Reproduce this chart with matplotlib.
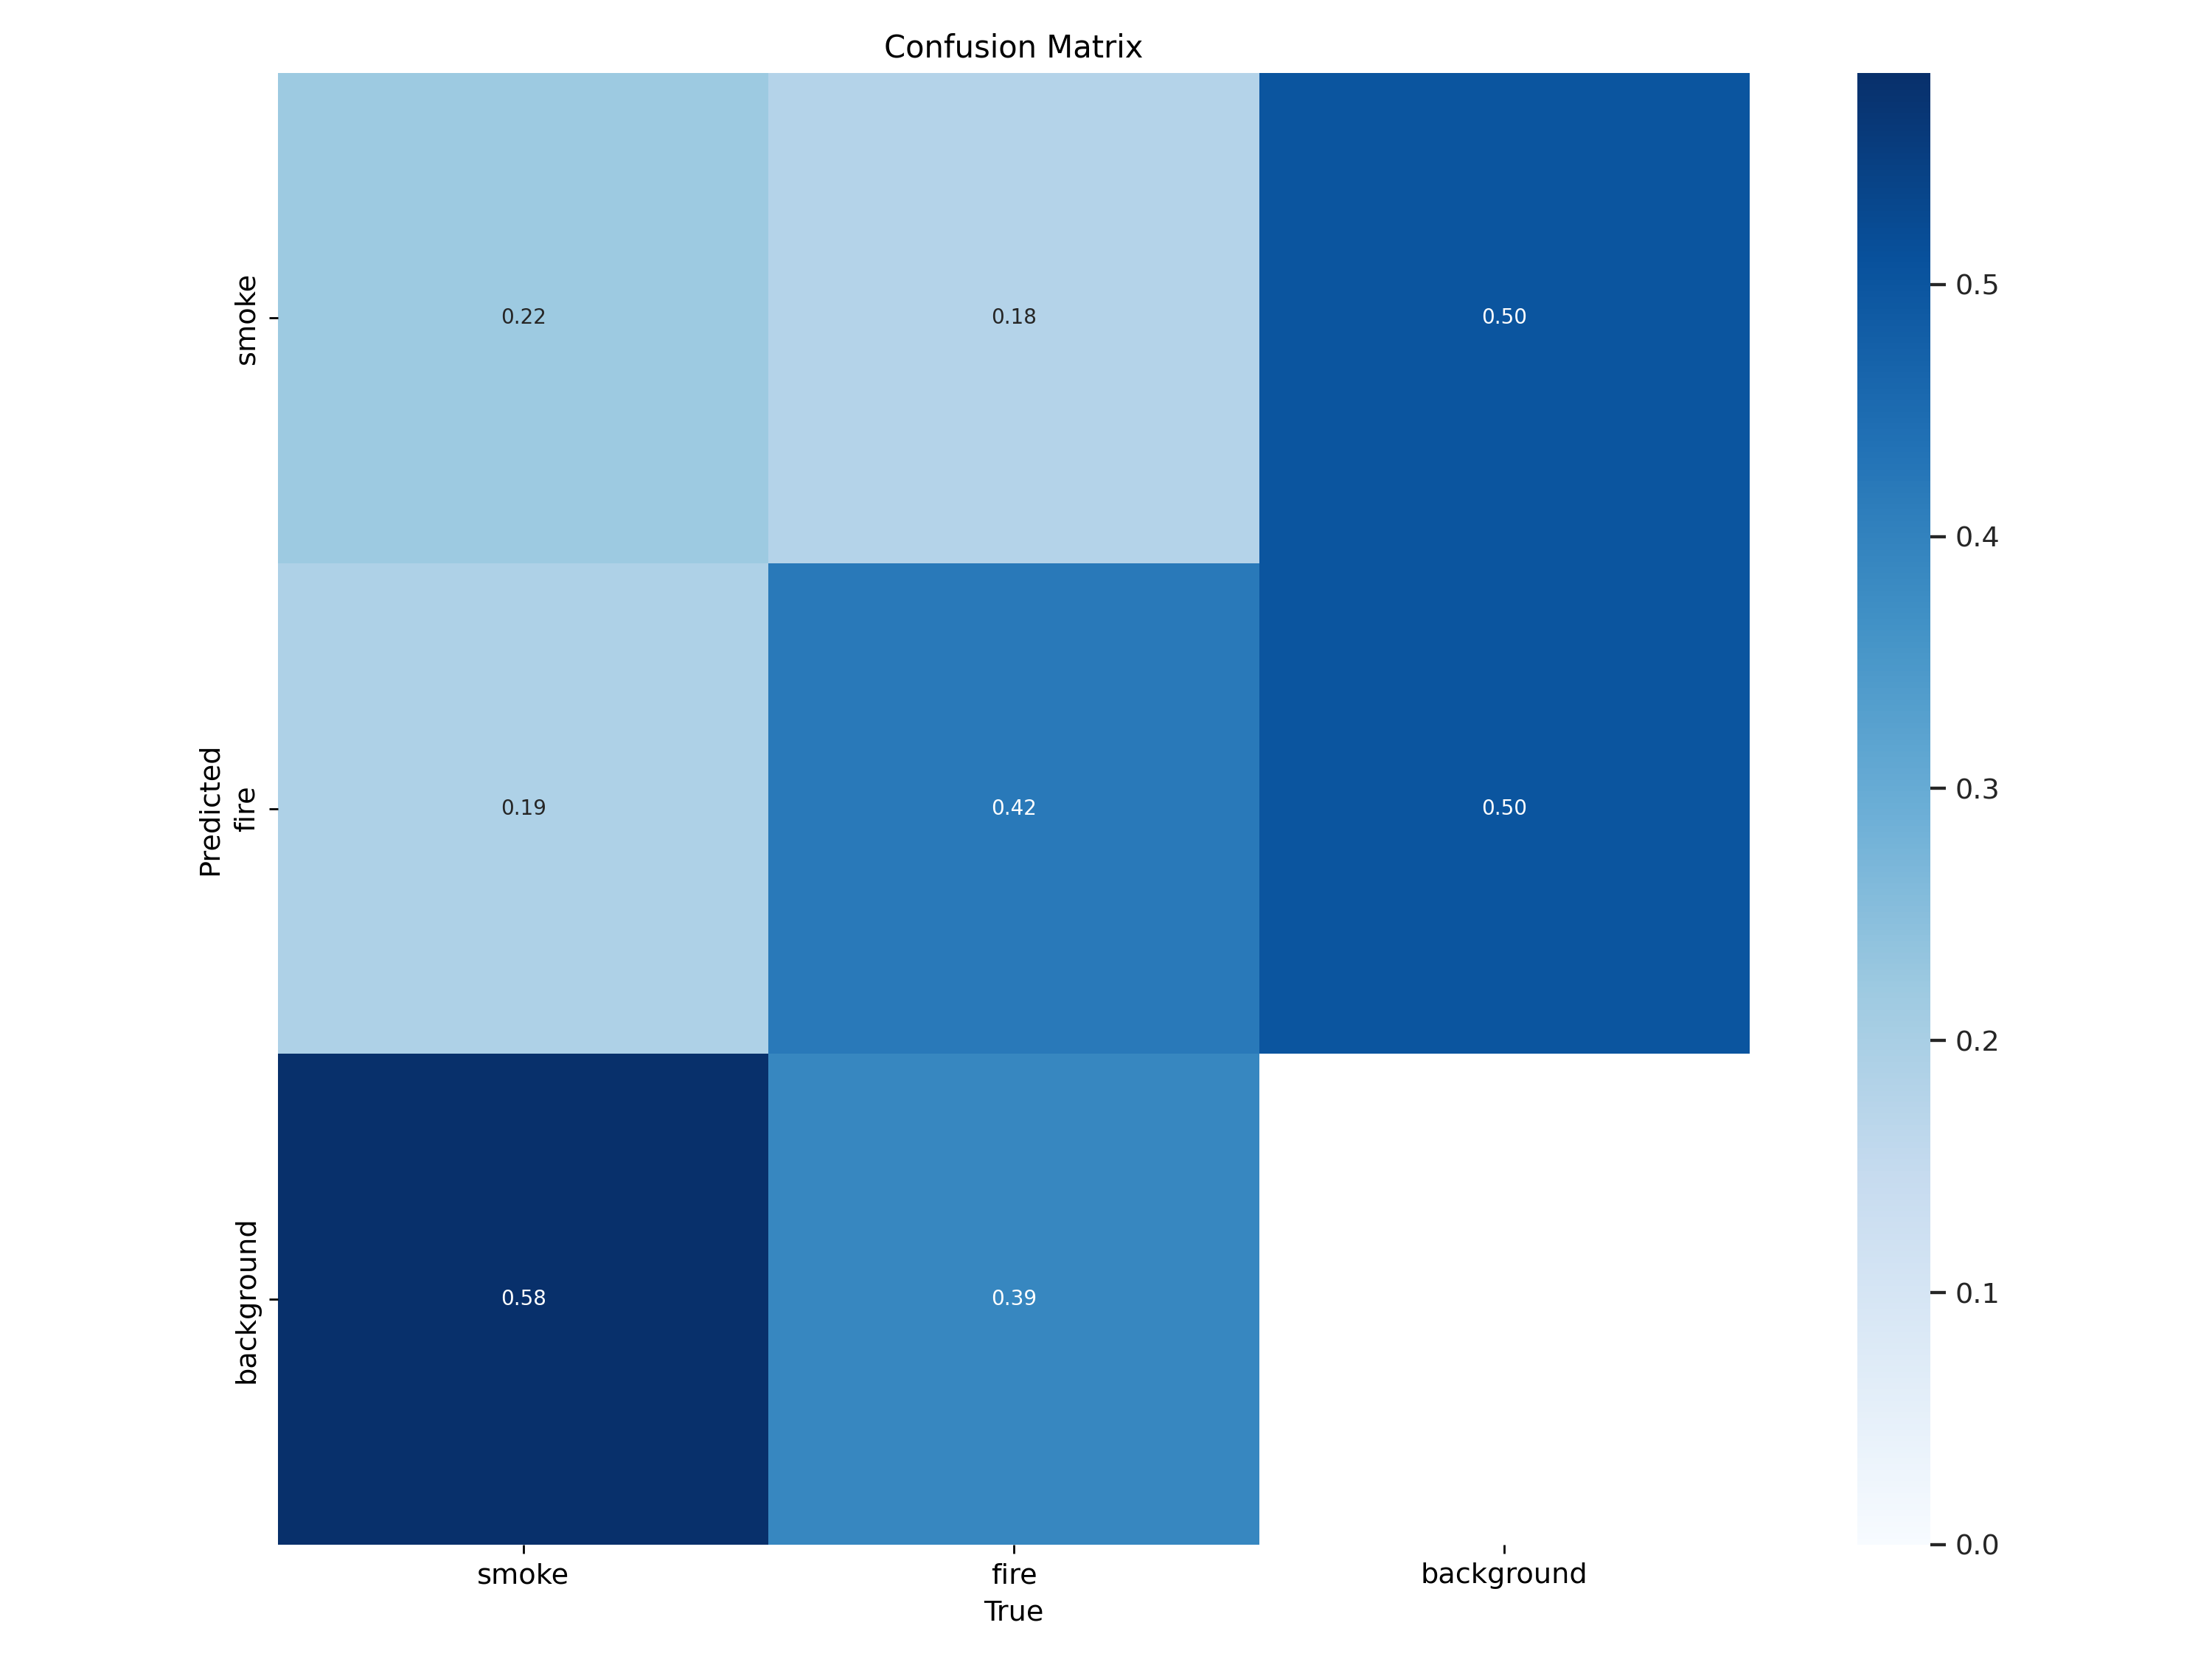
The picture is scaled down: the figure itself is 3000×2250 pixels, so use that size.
import numpy as np
import matplotlib
matplotlib.use("Agg")
import matplotlib.pyplot as plt
import seaborn as sns

labels_x = ["smoke", "fire", "background"]
labels_y = ["smoke", "fire", "background"]
row_smoke = [0.22, 0.18, 0.50]
row_fire = [0.19, 0.42, 0.50]
row_background = [0.584, 0.39, np.nan]

matrix = np.array([row_smoke, row_fire, row_background])

plt.rcParams["font.size"] = 12

fig, ax = plt.subplots(1, 1, figsize=(12, 9), tight_layout=True)
hm = sns.heatmap(matrix, ax=ax, annot=True, annot_kws={"size": 8}, cmap="Blues",
                 fmt=".2f", square=True, vmin=0.0,
                 xticklabels=labels_x, yticklabels=labels_y)
hm.set_facecolor((1, 1, 1))
ax.tick_params(axis="both", labelsize=11, length=3.5, width=0.8, color="black")
ax.set_xlabel("True", fontsize=11)
ax.set_ylabel("Predicted", fontsize=11)
ax.set_title("Confusion Matrix", fontsize=12)
cbar = hm.collections[0].colorbar
cbar.ax.tick_params(labelsize=11, length=6, width=1.25, color="#262626", labelcolor="#262626")
cbar.outline.set_visible(False)
fig.savefig("out.png", dpi=250)
